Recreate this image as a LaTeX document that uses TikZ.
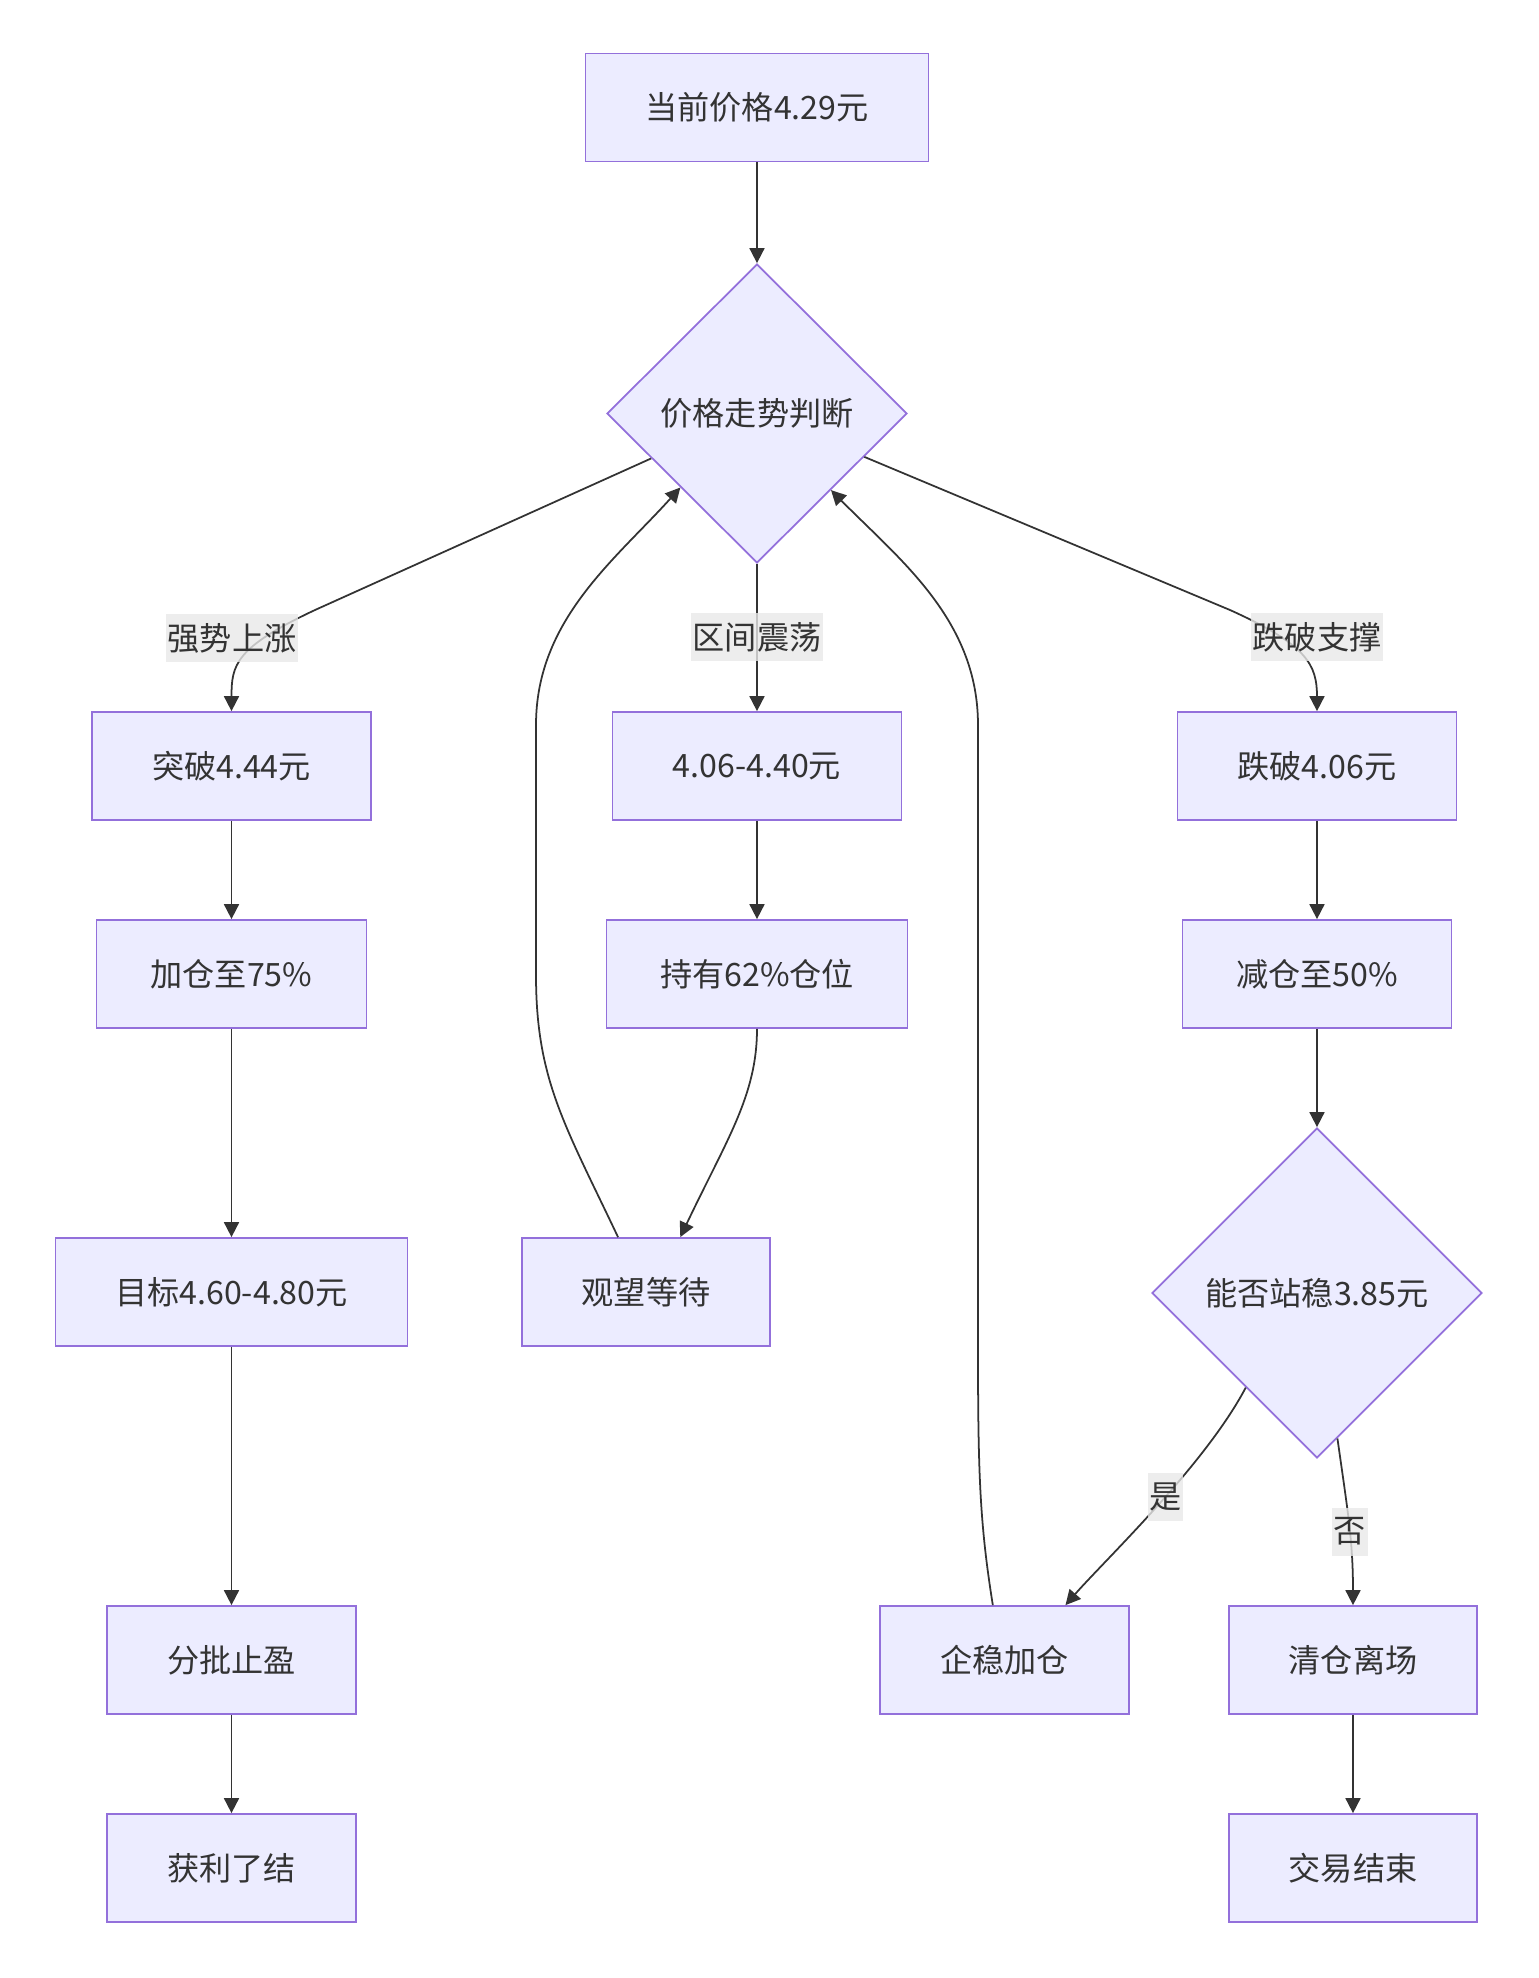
\documentclass[tikz,border=0pt]{standalone}
\usepackage{fontspec}
\setmainfont{Noto Sans CJK SC}
\usetikzlibrary{shapes.geometric,arrows.meta}
\definecolor{boxFill}{HTML}{ECECFF}
\definecolor{boxLine}{HTML}{9370DB}
\definecolor{penColor}{HTML}{333333}
\definecolor{labelFill}{HTML}{E8E8E8}
\tikzset{>={Triangle[length=8.5pt,width=8.5pt]}}
\tikzset{
  procBox/.style={draw=boxLine,fill=boxFill,line width=1pt,minimum height=2.16cm,text=penColor,font=\fontsize{18.3}{22}\selectfont},
  choiceNode/.style={diamond,aspect=1,draw=boxLine,fill=boxFill,line width=1pt,inner sep=0pt,text=penColor,font=\fontsize{18.3}{22}\selectfont},
  edgeLabel/.style={fill=labelFill,fill opacity=0.8,text opacity=1,text=penColor,inner xsep=1pt,inner ysep=0pt,minimum height=0.96cm,font=\fontsize{18.3}{22}\selectfont},
  flowLine/.style={->,draw=penColor,line width=1pt}
}

\begin{document}
\begin{tikzpicture}[y=-1cm]
\useasboundingbox (0,0) rectangle (30.78,39.56);
% main column
\node[procBox,minimum width=6.86cm] (price) at (15.14,2.15) {当前价格4.29元};
\node[choiceNode,minimum width=6cm,minimum height=5.98cm] (trend) at (15.14,8.27) {价格走势判断};
% left branch
\node[procBox,minimum width=5.58cm] (breakUp) at (4.63,15.32) {突破4.44元};
\node[procBox,minimum width=5.4cm] (addPos) at (4.63,19.48) {加仓至75\%};
\node[procBox,minimum width=7.04cm] (target) at (4.63,25.84) {目标4.60-4.80元};
\node[procBox,minimum width=4.98cm] (takeProfit) at (4.63,33.2) {分批止盈};
\node[procBox,minimum width=4.98cm] (profitEnd) at (4.63,37.36) {获利了结};
% middle branch
\node[procBox,minimum width=5.78cm] (band) at (15.14,15.32) {4.06-4.40元};
\node[procBox,minimum width=6.02cm] (hold) at (15.14,19.48) {持有62\%仓位};
\node[procBox,minimum width=4.96cm] (wait) at (12.92,25.84) {观望等待};
% right branch
\node[procBox,minimum width=5.58cm] (breakDown) at (26.34,15.32) {跌破4.06元};
\node[procBox,minimum width=5.38cm] (cutPos) at (26.34,19.48) {减仓至50\%};
\node[choiceNode,minimum width=6.6cm,minimum height=6.6cm] (check) at (26.34,25.86) {能否站稳3.85元};
\node[procBox,minimum width=4.98cm] (steady) at (20.09,33.2) {企稳加仓};
\node[procBox,minimum width=4.96cm] (exitAll) at (27.06,33.2) {清仓离场};
\node[procBox,minimum width=4.96cm] (tradeEnd) at (27.06,37.36) {交易结束};

\draw[flowLine] (price) -- (trend);
\draw[flowLine] (trend.203) -- (6.3,12.2) .. controls (4.7,12.95) and (4.63,13.3) .. (breakUp.north);
\draw[flowLine] (trend) -- (band);
\draw[flowLine] (trend.-22) -- (24.6,12.2) .. controls (26.15,12.9) and (26.34,13.3) .. (breakDown.north);
\draw[flowLine] (breakUp) -- (addPos);
\draw[flowLine] (addPos) -- (target);
\draw[flowLine] (target) -- (takeProfit);
\draw[flowLine] (takeProfit) -- (profitEnd);
\draw[flowLine] (band) -- (hold);
\draw[flowLine] (hold.south) .. controls (15.14,21.9) and (14.54,22.78) .. (wait.58);
\draw[flowLine] (wait.117) .. controls (11.3,22.5) and (10.72,21.6) .. (10.72,19.5) -- (10.72,14.5) .. controls (10.72,12.4) and (12.3,11.2) .. (trend.224);
\draw[flowLine] (breakDown) -- (cutPos);
\draw[flowLine] (cutPos) -- (check);
\draw[flowLine] (steady.102) .. controls (19.6,30.5) and (19.56,29.5) .. (19.56,27) -- (19.56,14.5) .. controls (19.56,12.4) and (18.0,11.2) .. (trend.-46);
\draw[flowLine] (check.233) .. controls (24.1,29.3) and (22.1,31.2) .. (steady.42) node[edgeLabel,pos=0.45] (yesLbl) {是};
\draw[flowLine] (check.-82) .. controls (26.95,30.2) and (27.06,30.8) .. (exitAll.north) node[edgeLabel,pos=0.55] (noLbl) {否};
\draw[flowLine] (exitAll) -- (tradeEnd);

% edge labels
\node[edgeLabel] (upLbl) at (4.64,12.76) {强势上涨};
\node[edgeLabel] (rangeLbl) at (15.14,12.74) {区间震荡};
\node[edgeLabel] (downLbl) at (26.34,12.74) {跌破支撑};
\end{tikzpicture}
\end{document}
